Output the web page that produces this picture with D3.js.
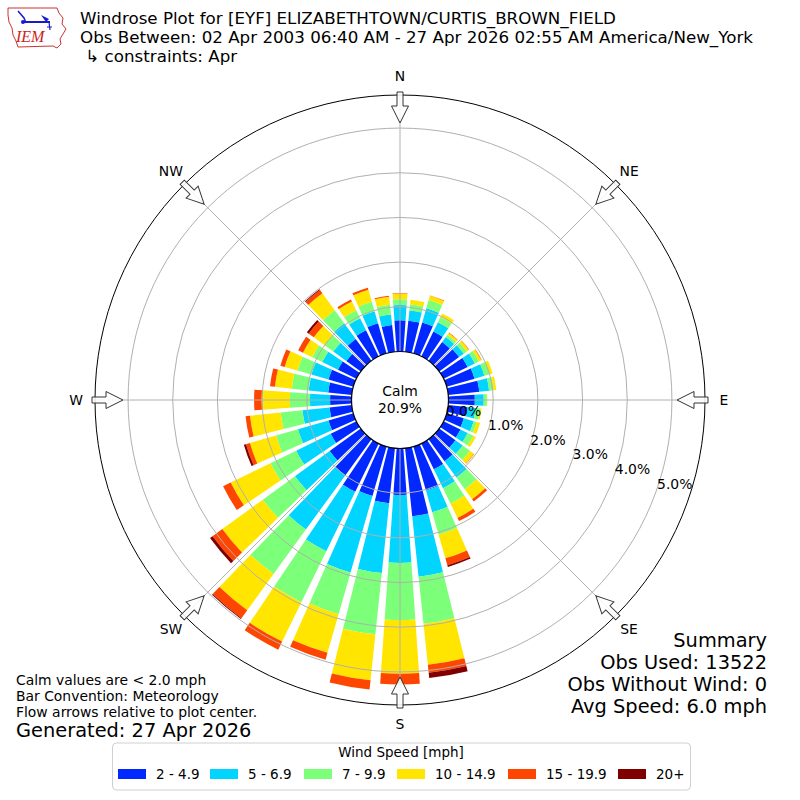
<!DOCTYPE html>
<html>
<head>
<meta charset="utf-8">
<script src="https://cdn.jsdelivr.net/npm/d3@7"></script>
<style>
  body { margin: 0; background: #fff; }
  text { font-family: "DejaVu Sans", sans-serif; fill: #000; }
</style>
</head>
<body>
<svg id="chart"></svg>
<script>
// direction bins (degrees, meteorological) and percent of obs per speed class
var directions = [0, 10, 20, 30, 40, 50, 60, 70, 80, 90, 100, 110, 120, 130, 140, 150, 160, 170,
                  180, 190, 200, 210, 220, 230, 240, 250, 260, 270, 280, 290, 300, 310, 320, 330, 340, 350];

var speed2to5   = [0.70, 0.70, 0.72, 0.62, 0.52, 0.55, 0.60, 0.65, 0.70, 0.59, 0.42, 0.40, 0.42, 0.45, 0.61, 0.64, 1.02, 1.53,
                   1.04, 1.24, 1.15, 1.20, 1.00, 0.86, 0.64, 0.58, 0.50, 0.48, 0.53, 0.58, 0.46, 0.40, 0.60, 0.65, 0.70, 0.60];
var speed5to7   = [0.34, 0.23, 0.33, 0.23, 0.14, 0.13, 0.18, 0.23, 0.22, 0.20, 0.20, 0.23, 0.18, 0.20, 0.45, 0.47, 0.51, 1.36,
                   1.52, 1.57, 1.78, 1.48, 1.50, 0.96, 0.86, 0.71, 0.61, 0.45, 0.44, 0.40, 0.39, 0.36, 0.44, 0.30, 0.28, 0.24];
var speed7to10  = [0.13, 0.14, 0.19, 0.13, 0.06, 0.08, 0.10, 0.12, 0.10, 0.07, 0.10, 0.07, 0.14, 0.20, 0.32, 0.38, 0.52, 1.06,
                   1.28, 1.38, 0.97, 1.27, 1.23, 0.89, 0.64, 0.51, 0.49, 0.45, 0.38, 0.32, 0.25, 0.24, 0.36, 0.20, 0.22, 0.22];
var speed10to15 = [0.13, 0.10, 0.10, 0.09, 0.05, 0.06, 0.06, 0.07, 0.06, 0.01, 0.03, 0.08, 0.06, 0.11, 0.28, 0.36, 0.55, 0.92,
                   1.20, 1.03, 0.90, 0.98, 1.00, 1.12, 0.99, 0.61, 0.69, 0.63, 0.38, 0.30, 0.23, 0.30, 0.47, 0.22, 0.28, 0.18];
var speed15to20 = [0.01, 0.00, 0.01, 0.00, 0.01, 0.01, 0.01, 0.00, 0.00, 0.00, 0.00, 0.00, 0.00, 0.01, 0.06, 0.08, 0.16, 0.18,
                   0.24, 0.21, 0.16, 0.20, 0.22, 0.27, 0.19, 0.09, 0.10, 0.17, 0.11, 0.10, 0.12, 0.14, 0.09, 0.05, 0.05, 0.02];
var speed20plus = [0.00, 0.00, 0.00, 0.00, 0.00, 0.00, 0.00, 0.00, 0.00, 0.00, 0.00, 0.00, 0.00, 0.00, 0.00, 0.00, 0.04, 0.12,
                   0.00, 0.00, 0.00, 0.00, 0.02, 0.07, 0.00, 0.05, 0.00, 0.00, 0.00, 0.00, 0.00, 0.05, 0.02, 0.00, 0.00, 0.00];

var speedLabels = ["2 - 4.9", "5 - 6.9", "7 - 9.9", "10 - 14.9", "15 - 19.9", "20+"];
var speedColors = ["#0028ff", "#00d4ff", "#7cff79", "#ffe500", "#ff4600", "#800000"];

var rTicks = [0, 1, 2, 3, 4, 5];
var compassAngles = [0, 45, 90, 135, 180, 225, 270, 315];
var compassLabels = ["N", "NE", "E", "SE", "S", "SW", "W", "NW"];

var calmPct = 20.9;
var titleLines = ["Windrose Plot for [EYF] ELIZABETHTOWN/CURTIS_BROWN_FIELD",
                  "Obs Between: 02 Apr 2003 06:40 AM - 27 Apr 2026 02:55 AM America/New_York",
                  " \u21b3 constraints: Apr"];
var summaryLines = ["Summary", "Obs Used: 13522", "Obs Without Wind: 0", "Avg Speed: 6.0 mph"];
var noteLines = ["Calm values are < 2.0 mph", "Bar Convention: Meteorology", "Flow arrows relative to plot center."];
var generatedText = "Generated: 27 Apr 2026";

var width = 800;
var height = 800;
var cx = 400, cy = 400;
var calmR = 48.5, outerR = 305;
var smallFont = "13.9px";

var svg = d3.select("#chart")
            .attr("width", width)
            .attr("height", height);

var rows = directions.map(function(d, i) {
  return {dir: d, s0: speed2to5[i], s1: speed5to7[i], s2: speed7to10[i],
          s3: speed10to15[i], s4: speed15to20[i], s5: speed20plus[i]};
});
var keys = ["s0", "s1", "s2", "s3", "s4", "s5"];
var stacked = d3.stack().keys(keys)(rows);

var rScale = d3.scaleLinear()
               .domain([0, 5.74])
               .range([calmR, outerR]);

var toRad = Math.PI / 180;
var halfWidth = 4; // degrees, bars fill 8 of every 10

var g = svg.append("g").attr("transform", "translate(" + cx + "," + cy + ")");

// bars
var arc = d3.arc();
stacked.forEach(function(series, k) {
  g.append("g").selectAll("path")
    .data(series)
    .enter()
    .append("path")
    .attr("fill", speedColors[k])
    .attr("d", function(d) {
      return arc({
        innerRadius: rScale(d[0]),
        outerRadius: rScale(d[1]),
        startAngle: (d.data.dir - halfWidth) * toRad,
        endAngle: (d.data.dir + halfWidth) * toRad
      });
    });
});

// grid rings and spokes
g.selectAll(".ring")
  .data(rTicks.slice(1))
  .enter()
  .append("circle")
  .attr("r", function(d) { return rScale(d); })
  .attr("fill", "none")
  .attr("stroke", "#b0b0b0")
  .attr("stroke-width", 1);

g.selectAll(".spoke")
  .data(compassAngles)
  .enter()
  .append("line")
  .attr("x1", function(d) { return calmR * Math.sin(d * toRad); })
  .attr("y1", function(d) { return -calmR * Math.cos(d * toRad); })
  .attr("x2", function(d) { return outerR * Math.sin(d * toRad); })
  .attr("y2", function(d) { return -outerR * Math.cos(d * toRad); })
  .attr("stroke", "#b0b0b0")
  .attr("stroke-width", 1);

g.append("circle")
  .attr("r", outerR)
  .attr("fill", "none")
  .attr("stroke", "#000")
  .attr("stroke-width", 1);

// calm circle
g.append("circle")
  .attr("r", calmR)
  .attr("fill", "#fff")
  .attr("stroke", "#000")
  .attr("stroke-width", 1.2);

g.append("text")
  .attr("text-anchor", "middle")
  .attr("y", -4)
  .style("font-size", smallFont)
  .text("Calm");
g.append("text")
  .attr("text-anchor", "middle")
  .attr("y", 13)
  .style("font-size", smallFont)
  .text(calmPct.toFixed(1) + "%");

// radial labels
var labelAngle = 109 * toRad;
g.selectAll(".rlabel")
  .data(rTicks)
  .enter()
  .append("text")
  .attr("x", function(d) { return rScale(d) * Math.sin(labelAngle); })
  .attr("y", function(d) { return -rScale(d) * Math.cos(labelAngle); })
  .style("font-size", smallFont)
  .text(function(d) { return d3.format(".1f")(d) + "%"; });

// flow arrows
var arrowPath = "M-3,-308L3,-308L3,-294L8.5,-294L0,-277L-8.5,-294L-3,-294Z";
g.selectAll(".arrow")
  .data(compassAngles)
  .enter()
  .append("path")
  .attr("d", arrowPath)
  .attr("transform", function(d) { return "rotate(" + d + ")"; })
  .attr("fill", "#fff")
  .attr("fill-opacity", 0.85)
  .attr("stroke", "#333")
  .attr("stroke-width", 1);

// compass labels
g.selectAll(".clabel")
  .data(compassAngles)
  .enter()
  .append("text")
  .attr("x", function(d) { return 324 * Math.sin(d * toRad); })
  .attr("y", function(d) { return -324 * Math.cos(d * toRad); })
  .attr("text-anchor", "middle")
  .attr("dy", "0.35em")
  .style("font-size", smallFont)
  .text(function(d, i) { return compassLabels[i]; });

// titles
svg.selectAll(".title")
  .data(titleLines)
  .enter()
  .append("text")
  .attr("x", 80)
  .attr("y", function(d, i) { return 24 + i * 19; })
  .style("font-size", "16.7px")
  .style("white-space", "pre")
  .text(function(d) { return d; });

// summary, bottom right
svg.selectAll(".summary")
  .data(summaryLines)
  .enter()
  .append("text")
  .attr("x", 767)
  .attr("y", function(d, i) { return 647 + i * 22; })
  .attr("text-anchor", "end")
  .style("font-size", "19.4px")
  .text(function(d) { return d; });

// notes, bottom left
svg.selectAll(".note")
  .data(noteLines)
  .enter()
  .append("text")
  .attr("x", 16)
  .attr("y", function(d, i) { return 685 + i * 16; })
  .style("font-size", smallFont)
  .text(function(d) { return d; });

svg.append("text")
  .attr("x", 16)
  .attr("y", 737)
  .style("font-size", "19.4px")
  .text(generatedText);

// legend
var legend = svg.append("g");
legend.append("rect")
  .attr("x", 112.5).attr("y", 743)
  .attr("width", 578).attr("height", 47)
  .attr("rx", 4)
  .attr("fill", "#fff")
  .attr("stroke", "#d0d0d0");
legend.append("text")
  .attr("x", 401).attr("y", 757)
  .attr("text-anchor", "middle")
  .style("font-size", "13.5px")
  .text("Wind Speed [mph]");

var swatchX = [118, 210, 304, 397, 508, 618];
var items = legend.selectAll(".item")
  .data(speedLabels)
  .enter()
  .append("g")
  .attr("transform", function(d, i) { return "translate(" + swatchX[i] + ",769)"; });
items.append("rect")
  .attr("width", 28).attr("height", 10)
  .attr("fill", function(d, i) { return speedColors[i]; });
items.append("text")
  .attr("x", 38).attr("y", 10)
  .style("font-size", "13.5px")
  .text(function(d) { return d; });

// IEM logo, rough
var logo = svg.append("g");
logo.append("path")
  .attr("d", "M8,8L57,8L59,13L63,18L62,24L66,29L63,34L60,39L61,44L57,48L53,46L18,47L16,41L13,35L12,28L9,22L8,15Z")
  .attr("fill", "#fff")
  .attr("stroke", "#cc3333")
  .attr("stroke-width", 1);
logo.append("line").attr("x1", 23).attr("y1", 22).attr("x2", 50).attr("y2", 22)
  .attr("stroke", "#1a1acc").attr("stroke-width", 2);
logo.append("path").attr("d", "M18,11L24,18L26,23").attr("fill", "none")
  .attr("stroke", "#1a1acc").attr("stroke-width", 1.5);
logo.append("path").attr("d", "M41,15L49,19L46,22Z").attr("fill", "#1a1acc");
logo.append("circle").attr("cx", 23).attr("cy", 22).attr("r", 2).attr("fill", "#1a1acc");
logo.append("path").attr("d", "M49,22L50,30M47,27L52,27").attr("stroke", "#1a1acc").attr("stroke-width", 1.2);
logo.append("text")
  .attr("x", 16).attr("y", 42)
  .style("font-family", "'Liberation Serif', serif")
  .style("font-style", "italic")
  .style("font-size", "16px")
  .style("fill", "#cc2222")
  .text("IEM");
</script>
</body>
</html>
